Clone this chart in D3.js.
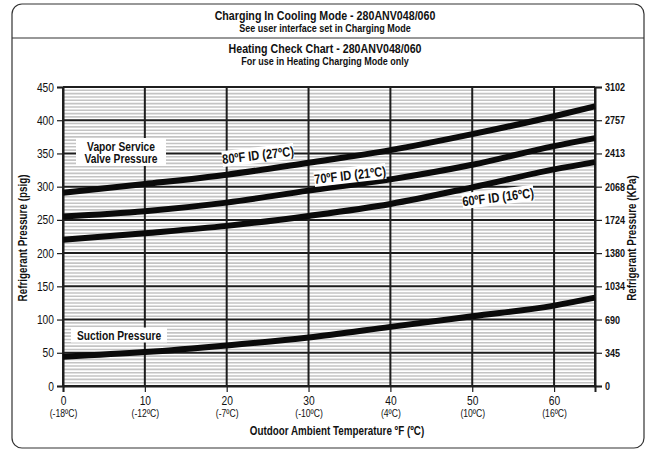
<!DOCTYPE html>
<html>
<head>
<meta charset="utf-8">
<script src="https://cdn.jsdelivr.net/npm/d3@7"></script>
<style>
  body { margin: 0; background: #fff; }
  text { font-family: "Liberation Sans", Arial, sans-serif; }
</style>
</head>
<body>
<svg id="chart" width="649" height="451"></svg>
<script>
// values (psig vs outdoor temp in F)
var temps   = [0, 10, 20, 30, 40, 50, 60, 65];
var id80    = [291, 304, 318, 336, 355, 379, 406, 421];
var id70    = [255, 263, 276, 294, 311, 333, 361, 373];
var id60    = [220, 230, 241, 256, 274, 299, 326, 337];
var suction = [44, 51, 61, 73, 89, 105, 121, 133];

var xTicks  = [0, 10, 20, 30, 40, 50, 60];
var xTickC  = ["(-18ºC)", "(-12ºC)", "(-7ºC)", "(-10ºC)", "(4ºC)", "(10ºC)", "(16ºC)"];
var psigTicks = [0, 50, 100, 150, 200, 250, 300, 350, 400, 450];
var kpaLabels = ["0", "345", "690", "1034", "1380", "1724", "2068", "2413", "2757", "3102"];

var NARROW = 0.82; // fake Arial Narrow by squeezing Liberation Sans

var svg = d3.select("#chart");

// squeeze a text element horizontally around its own anchor point
function squeeze(sel) {
  sel.each(function() {
    var t = d3.select(this);
    var tx = +t.attr("x") || 0, ty = +t.attr("y") || 0;
    var tr = t.attr("transform") || "";
    t.attr("x", 0).attr("y", 0)
      .attr("transform", tr + " translate(" + tx + "," + ty + ") scale(" + NARROW + ",1)");
  });
}

// outer frame + header
svg.append("rect")
  .attr("x", 12).attr("y", 4).attr("width", 632).attr("height", 444)
  .attr("rx", 10).attr("fill", "#fff").attr("stroke", "#333").attr("stroke-width", 1.2);
svg.append("line")
  .attr("x1", 12).attr("x2", 644).attr("y1", 38).attr("y2", 38)
  .attr("stroke", "#333").attr("stroke-width", 1.2);

function title(txt, y, size) {
  svg.append("text").attr("x", 325).attr("y", y).attr("text-anchor", "middle")
    .attr("font-size", size).attr("font-weight", "bold").attr("fill", "#111").text(txt)
    .call(squeeze);
}
title("Charging In Cooling Mode - 280ANV048/060", 20, 13);
title("See user interface set in Charging Mode", 32, 11);
title("Heating Check Chart - 280ANV048/060", 53, 13);
title("For use in Heating Charging Mode only", 65, 11);

var pLeft = 63, pRight = 595, pTop = 87, pBottom = 386;

var x = d3.scaleLinear().domain([0, 65]).range([pLeft, pRight]);
var y = d3.scaleLinear().domain([0, 450]).range([pBottom, pTop]);

// minor grid every 5 psig
var g = svg.append("g");
g.selectAll(".minor").data(d3.range(5, 450, 5).filter(function(d) { return d % 50 != 0; }))
  .enter().append("line")
  .attr("x1", pLeft).attr("x2", pRight)
  .attr("y1", function(d) { return y(d); }).attr("y2", function(d) { return y(d); })
  .attr("stroke", "#c4c4c4").attr("stroke-width", 1.6);

// major grid
g.selectAll(".hmaj").data(psigTicks).enter().append("line")
  .attr("x1", pLeft).attr("x2", pRight)
  .attr("y1", function(d) { return y(d); }).attr("y2", function(d) { return y(d); })
  .attr("stroke", "#1e1e1e").attr("stroke-width", 2);
g.selectAll(".vmaj").data(xTicks.concat([65])).enter().append("line")
  .attr("y1", pTop).attr("y2", pBottom)
  .attr("x1", function(d) { return x(d); }).attr("x2", function(d) { return x(d); })
  .attr("stroke", "#1e1e1e").attr("stroke-width", 2);

// axes
var yl = svg.append("g").attr("transform", "translate(" + pLeft + ",0)")
  .call(d3.axisLeft(y).tickValues(psigTicks).tickSize(6).tickPadding(3));
var yr = svg.append("g").attr("transform", "translate(" + pRight + ",0)")
  .call(d3.axisRight(y).tickValues(psigTicks).tickSize(7).tickPadding(3)
    .tickFormat(function(d, i) { return kpaLabels[i]; }));
var xb = svg.append("g").attr("transform", "translate(0," + pBottom + ")")
  .call(d3.axisBottom(x).tickValues(xTicks).tickSize(6).tickPadding(4));

[yl, yr, xb].forEach(function(a) {
  a.select(".domain").attr("stroke", "#1e1e1e").attr("stroke-width", 2);
  a.selectAll(".tick line").attr("stroke", "#1e1e1e").attr("stroke-width", 1.2);
  a.selectAll("text").attr("font-size", 12.5).attr("fill", "#111")
    .style("font-family", '"Liberation Sans", Arial, sans-serif');
});
yr.selectAll("text").attr("font-size", 11).attr("font-weight", "bold");

xb.selectAll(".tick").append("text")
  .attr("y", 31).attr("fill", "#111").attr("text-anchor", "middle")
  .attr("font-size", 10.5)
  .text(function(d, i) { return xTickC[i]; });

svg.selectAll(".tick text").call(squeeze);

// axis titles
function axisTitle(txt, tx, ty, rot) {
  svg.append("text")
    .attr("transform", "translate(" + tx + "," + ty + ") rotate(" + rot + ") scale(" + NARROW + ",1)")
    .attr("text-anchor", "middle").attr("font-size", 12).attr("font-weight", "bold")
    .attr("fill", "#111").text(txt);
}
axisTitle("Refrigerant Pressure (psig)", 27, 238, -90);
axisTitle("Refrigerant Pressure (KPa)", 636, 238, -90);
axisTitle("Outdoor Ambient Temperature ºF (ºC)", 337, 435, 0);

// curves
var line = d3.line()
  .x(function(d) { return x(d[0]); })
  .y(function(d) { return y(d[1]); })
  .curve(d3.curveMonotoneX);

[id80, id70, id60, suction].forEach(function(s) {
  svg.append("path")
    .datum(d3.zip(temps, s))
    .attr("fill", "none").attr("stroke", "#0a0a0a").attr("stroke-width", 6)
    .attr("d", line);
});

// labels with white boxes
function label(lines, cx, cy, rot, size, weight, w, h) {
  var lg = svg.append("g").attr("transform", "translate(" + cx + "," + cy + ") rotate(" + rot + ")");
  lg.append("rect").attr("x", -w / 2).attr("y", -h / 2).attr("width", w).attr("height", h)
    .attr("fill", "#fff");
  lines.forEach(function(t, i) {
    lg.append("text")
      .attr("transform", "translate(0," + ((i - (lines.length - 1) / 2) * 12 + size * 0.36) + ") scale(" + NARROW + ",1)")
      .attr("text-anchor", "middle").attr("font-size", size).attr("font-weight", weight)
      .attr("fill", "#111").text(t);
  });
}
label(["80ºF ID (27ºC)"], 258, 155, -6.5, 13.5, "bold", 72, 16);
label(["70ºF ID (21ºC)"], 350, 175, -6.5, 13.5, "bold", 72, 16);
label(["60ºF ID (16ºC)"], 498, 197, -7, 13.5, "bold", 72, 16);
label(["Vapor Service", "Valve Pressure"], 121, 152, 0, 12.5, "bold", 90, 28);
label(["Suction Pressure"], 119, 335, 0, 12.5, "bold", 96, 15);
</script>
</body>
</html>
